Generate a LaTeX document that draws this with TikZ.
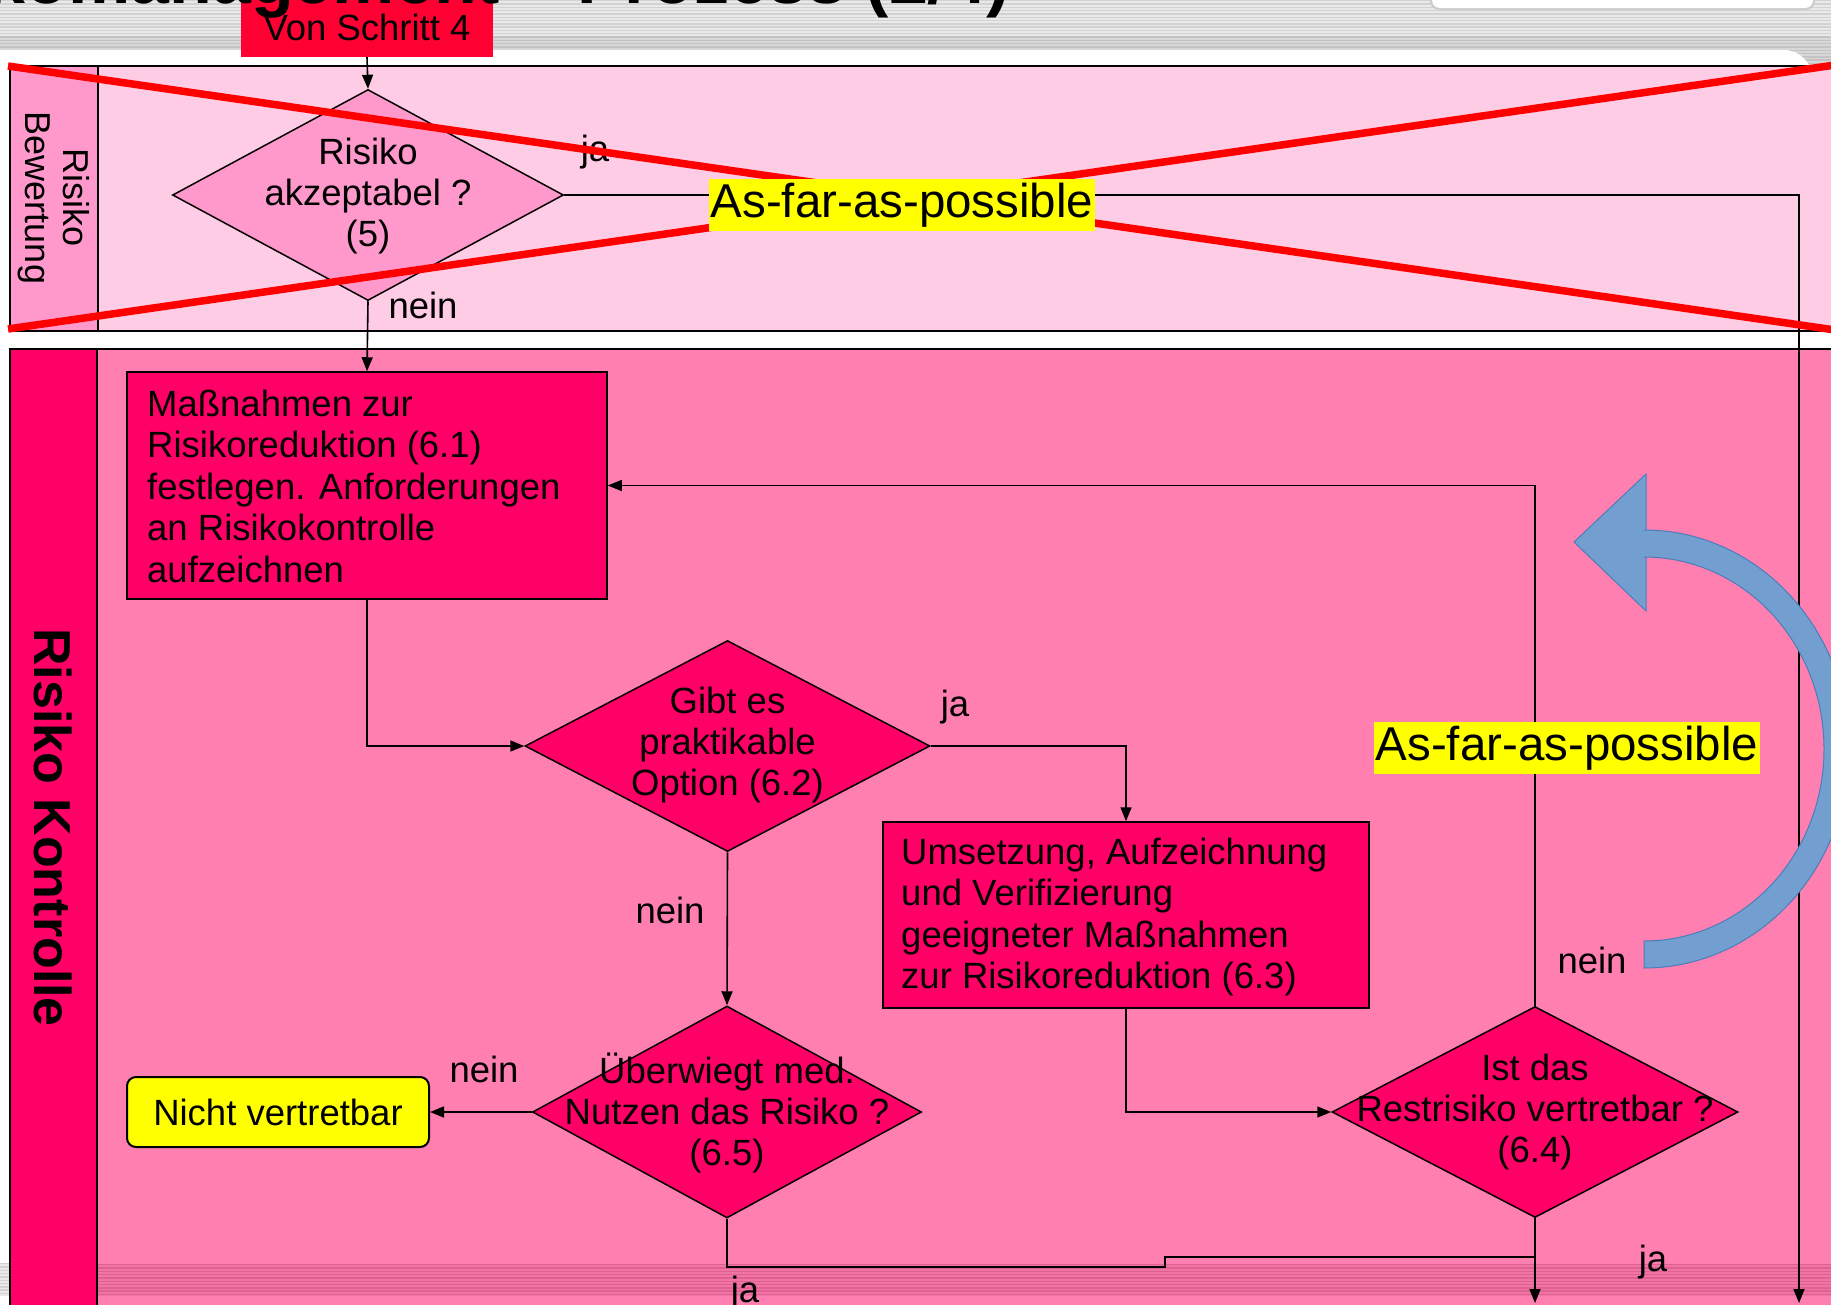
\documentclass[tikz,border=0pt]{standalone}
\usepackage{fontspec}
\setmainfont{Liberation Sans}
\usetikzlibrary{shapes.geometric,arrows.meta}
\definecolor{laneAbody}{HTML}{FFCCE5}
\definecolor{laneAhead}{HTML}{FF99CC}
\definecolor{laneBbody}{HTML}{FF80B0}
\definecolor{laneBhead}{HTML}{FF0066}
\definecolor{vonred}{HTML}{FF0033}
\definecolor{xred}{HTML}{FF0000}
\definecolor{hiyellow}{HTML}{FFFF00}
\definecolor{bluearrow}{HTML}{729FCF}
\definecolor{blueedge}{HTML}{4A7EBB}
\definecolor{stripeA}{HTML}{E9E9E9}
\definecolor{stripeB}{HTML}{D2D2D2}
\definecolor{pinkstripeA}{HTML}{F074A6}
\definecolor{pinkstripeB}{HTML}{E0608F}
\begin{document}
\begin{tikzpicture}[x=1pt,y=-1pt,
  txt/.style={font=\fontsize{36.5}{41}\selectfont, inner sep=0pt, align=center},
  txtl/.style={font=\fontsize{36.5}{41.5}\selectfont, inner sep=0pt, align=left, anchor=west},
  lbl/.style={font=\fontsize{36.5}{41}\selectfont, inner sep=0pt},
  dia/.style={diamond, draw=black, line width=1.5pt, inner sep=0pt},
  procbox/.style={draw=black, line width=1.5pt, fill=laneBhead, inner sep=0pt},
  conn/.style={line width=1.6pt, -{Triangle[length=14pt,width=11pt]}},
  plainconn/.style={line width=1.6pt},
  lanerule/.style={line width=2.2pt, draw=black},
  hl/.style={fill=hiyellow, inner xsep=2pt, inner ysep=0pt, minimum height=52pt,
             font=\fontsize{47.5}{52}\selectfont},
  crossline/.style={draw=xred, line width=7.5pt}
]
\useasboundingbox (0,0) rectangle (1831,1304);
\clip (0,0) rectangle (1831,1304);

% ---------- background ----------
\fill[white] (0,0) rectangle (1831,1304);
\fill[stripeA] (0,0) rectangle (1831,66);
\foreach \i in {0,...,19} { \fill[stripeB] (0,\i*3.3) rectangle (1831,\i*3.3+1.4); }
\fill[black, opacity=0.07] (0,36) rectangle (1831,66);
\fill[white, rounded corners=28pt] (-40,50) rectangle (1812,1500);
\fill[black!20, rounded corners=9pt] (1430,-30) rectangle (1815,10);
\fill[white, rounded corners=8pt] (1432,-30) rectangle (1813,8);
% bottom stripe band
\fill[stripeA] (0,1263) rectangle (1831,1296);
\foreach \i in {0,...,9} { \fill[stripeB] (0,1263+\i*3.3) rectangle (1831,1263+\i*3.3+1.4); }

% ---------- lane 1: Risiko Bewertung ----------
\fill[laneAbody] (10,66) rectangle (1845,331);
\fill[laneAhead] (10,66) rectangle (98,331);
\draw[lanerule] (1845,66) -- (10,66) -- (10,331) -- (1845,331);
\draw[lanerule] (98,66) -- (98,331);
\node[rotate=-90, font=\fontsize{36}{38}\selectfont, align=center, inner sep=0pt] (laneA) at (54,198) {Risiko\\Bewertung};

% ---------- lane 2: Risiko Kontrolle ----------
\fill[laneBbody] (10,349) rectangle (1845,1320);
\fill[pinkstripeA] (98,1264) rectangle (1845,1296);
\foreach \i in {0,...,9} { \fill[pinkstripeB] (98,1264+\i*3.3) rectangle (1845,1264+\i*3.3+1.4); }
\fill[laneBhead] (10,349) rectangle (97,1320);
\draw[lanerule] (1845,349) -- (10,349) -- (10,1320);
\draw[lanerule] (97,349) -- (97,1320);
\node[rotate=-90, font=\fontsize{52}{56}\selectfont\bfseries, inner sep=0pt] (laneB) at (53.5,827.5) {Risiko Kontrolle};

% ---------- start box ----------
\node[fill=vonred, minimum width=252pt, minimum height=62pt, inner sep=0pt] (von) at (367,26) {};
\node[lbl] (vont) at (367,27) {Von Schritt 4};

% ---------- flow nodes ----------
\node[dia, fill=laneAhead, minimum width=391pt, minimum height=211pt] (d1) at (368,195) {};
\node[txt] (d1t) at (368,196) {Risiko\\akzeptabel ?\\(5)};

\node[procbox, minimum width=480pt, minimum height=227pt] (b1) at (367,485.5) {};
\node[txtl] (b1t) at (147,486) {Maßnahmen zur\\Risikoreduktion (6.1)\\festlegen. Anforderungen\\an Risikokontrolle\\aufzeichnen};

\node[dia, fill=laneBhead, minimum width=405pt, minimum height=211pt] (d2) at (727.5,746) {};
\node[txt] (d2t) at (727.5,745) {Gibt es\\praktikable\\Option (6.2)};

\node[procbox, minimum width=486pt, minimum height=186pt] (b2) at (1126,915) {};
\node[txtl] (b2t) at (901,917) {Umsetzung, Aufzeichnung\\und Verifizierung\\geeigneter Maßnahmen\\zur Risikoreduktion (6.3)};

\node[dia, fill=laneBhead, minimum width=389pt, minimum height=212pt] (d3) at (727,1112) {};
\node[txt] (d3t) at (727,1113) {Überwiegt med.\\Nutzen das Risiko ?\\(6.5)};

\node[dia, fill=laneBhead, minimum width=406pt, minimum height=211pt] (d4) at (1535,1112) {};
\node[txt] (d4t) at (1535,1112) {Ist das\\Restrisiko vertretbar ?\\(6.4)};

\node[draw=black, line width=2pt, fill=hiyellow, rounded corners=9pt, minimum width=302pt,
      minimum height=70pt, txt] (nv) at (278,1112) {Nicht vertretbar};

% ---------- connector end points ----------
\coordinate (endR) at (1799,1303);
\coordinate (endM) at (1535,1303);
\coordinate (step1) at (727,1267);
\coordinate (step2) at (1165,1267);
\coordinate (step3) at (1165,1257);
\coordinate (join) at (1535,1257);

% ---------- connectors ----------
\draw[conn] (von.south) -- (d1.north);
\draw[conn] (d1.south) -- (b1.north);
\draw[conn] (d1.east) -| (endR);
\draw[conn] (b1.south) |- (d2.west);
\draw[conn] (d2.east) -| (b2.north);
\draw[conn] (d2.south) -- (d3.north);
\draw[conn] (b2.south) |- (d4.west);
\draw[conn] (d4.north) |- (b1.east);
\draw[conn] (d4.south) -- (endM);
\draw[conn] (d3.west) -- (nv.east);
\draw[plainconn] (d3.south) -- (step1) -- (step2) -- (step3) -- (join);

% ---------- labels ----------
\node[lbl] (ja1) at (595,152) {ja};
\node[lbl] (nein1) at (423,305) {nein};
\node[lbl] (ja2) at (955,707) {ja};
\node[lbl] (nein2) at (670,910) {nein};
\node[lbl] (nein3) at (484,1069) {nein};
\node[lbl] (ja3) at (745,1293) {ja};
\node[lbl] (nein4) at (1592,960) {nein};
\node[lbl] (ja4) at (1653,1262) {ja};

% ---------- big blue curved arrow ----------
\filldraw[fill=bluearrow, draw=blueedge, line width=1pt]
  (1644,968) arc[start angle=90, end angle=-90, x radius=205, y radius=219]
  -- (1646,530) -- (1646,474) -- (1574,542) -- (1646,611) -- (1646,557) -- (1644,557)
  arc[start angle=-90, end angle=90, x radius=180, y radius=192]
  -- cycle;

% ---------- red cross over lane 1 ----------
\draw[crossline] (8,66) -- (1835,330);
\draw[crossline] (8,329) -- (1835,65);

% ---------- highlighted notes ----------
\node[hl] (afap1) at (902,205) {As-far-as-possible};
\node[hl] (afap2) at (1567,748) {As-far-as-possible};

% ---------- clipped title ----------
\node[anchor=base east, inner sep=0pt, font=\fontsize{70}{76}\selectfont\bfseries] (title) at (1010,3) {Risikomanagement – Prozess (2/4)};
\end{tikzpicture}
\end{document}
